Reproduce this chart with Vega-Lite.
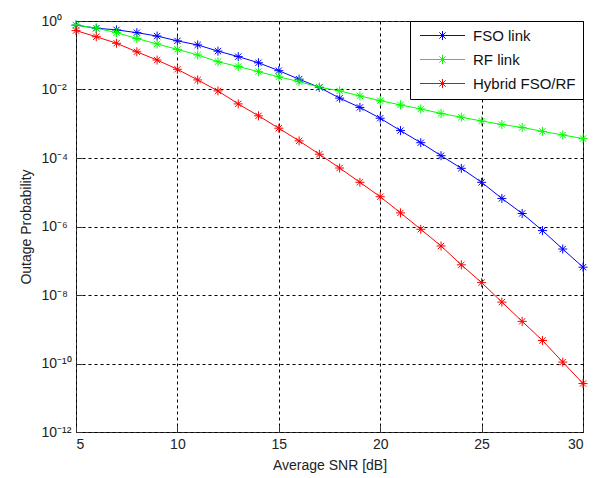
{
  "$schema": "https://vega.github.io/schema/vega-lite/v6.json",
  "width": 507,
  "height": 411,
  "autosize": {"type": "none"},
  "padding": {"left": 76, "top": 21, "right": 14, "bottom": 46},
  "background": "white",
  "config": {
    "font": "Liberation Sans",
    "view": {"stroke": "#333333", "strokeWidth": 1},
    "axis": {
      "grid": true,
      "gridColor": "#000000",
      "gridDash": [3, 3],
      "gridOpacity": 1,
      "gridWidth": 1,
      "domain": false,
      "ticks": true,
      "tickSize": -6,
      "tickColor": "#333333",
      "labelFont": "Liberation Sans",
      "labelFontSize": 14,
      "labelColor": "#222222",
      "titleFont": "Liberation Sans",
      "titleFontSize": 14,
      "titleFontWeight": "normal",
      "titleColor": "#222222"
    }
  },
  "data": {
    "values": [
      {"s": "FSO link", "x": 5, "p": 0.759},
      {"s": "FSO link", "x": 6, "p": 0.617},
      {"s": "FSO link", "x": 7, "p": 0.55},
      {"s": "FSO link", "x": 8, "p": 0.457},
      {"s": "FSO link", "x": 9, "p": 0.363},
      {"s": "FSO link", "x": 10, "p": 0.263},
      {"s": "FSO link", "x": 11, "p": 0.2},
      {"s": "FSO link", "x": 12, "p": 0.132},
      {"s": "FSO link", "x": 13, "p": 0.0912},
      {"s": "FSO link", "x": 14, "p": 0.0603},
      {"s": "FSO link", "x": 15, "p": 0.0355},
      {"s": "FSO link", "x": 16, "p": 0.02},
      {"s": "FSO link", "x": 17, "p": 0.0115},
      {"s": "FSO link", "x": 18, "p": 0.0056},
      {"s": "FSO link", "x": 19, "p": 0.003},
      {"s": "FSO link", "x": 20, "p": 0.00145},
      {"s": "FSO link", "x": 21, "p": 0.00063},
      {"s": "FSO link", "x": 22, "p": 0.00028},
      {"s": "FSO link", "x": 23, "p": 0.000117},
      {"s": "FSO link", "x": 24, "p": 5.0e-5},
      {"s": "FSO link", "x": 25, "p": 1.95e-5},
      {"s": "FSO link", "x": 26, "p": 6.6e-6},
      {"s": "FSO link", "x": 27, "p": 2.4e-6},
      {"s": "FSO link", "x": 28, "p": 7.6e-7},
      {"s": "FSO link", "x": 29, "p": 2.2e-7},
      {"s": "FSO link", "x": 30, "p": 6.5e-8},
      {"s": "RF link", "x": 5, "p": 0.759},
      {"s": "RF link", "x": 6, "p": 0.617},
      {"s": "RF link", "x": 7, "p": 0.457},
      {"s": "RF link", "x": 8, "p": 0.309},
      {"s": "RF link", "x": 9, "p": 0.214},
      {"s": "RF link", "x": 10, "p": 0.148},
      {"s": "RF link", "x": 11, "p": 0.102},
      {"s": "RF link", "x": 12, "p": 0.0646},
      {"s": "RF link", "x": 13, "p": 0.0468},
      {"s": "RF link", "x": 14, "p": 0.0331},
      {"s": "RF link", "x": 15, "p": 0.0234},
      {"s": "RF link", "x": 16, "p": 0.017},
      {"s": "RF link", "x": 17, "p": 0.0117},
      {"s": "RF link", "x": 18, "p": 0.0091},
      {"s": "RF link", "x": 19, "p": 0.0065},
      {"s": "RF link", "x": 20, "p": 0.0047},
      {"s": "RF link", "x": 21, "p": 0.00355},
      {"s": "RF link", "x": 22, "p": 0.0027},
      {"s": "RF link", "x": 23, "p": 0.002},
      {"s": "RF link", "x": 24, "p": 0.00155},
      {"s": "RF link", "x": 25, "p": 0.0012},
      {"s": "RF link", "x": 26, "p": 0.00095},
      {"s": "RF link", "x": 27, "p": 0.00078},
      {"s": "RF link", "x": 28, "p": 0.0006},
      {"s": "RF link", "x": 29, "p": 0.00047},
      {"s": "RF link", "x": 30, "p": 0.00037},
      {"s": "Hybrid FSO/RF", "x": 5, "p": 0.525},
      {"s": "Hybrid FSO/RF", "x": 6, "p": 0.347},
      {"s": "Hybrid FSO/RF", "x": 7, "p": 0.224},
      {"s": "Hybrid FSO/RF", "x": 8, "p": 0.126},
      {"s": "Hybrid FSO/RF", "x": 9, "p": 0.0724},
      {"s": "Hybrid FSO/RF", "x": 10, "p": 0.0389},
      {"s": "Hybrid FSO/RF", "x": 11, "p": 0.019},
      {"s": "Hybrid FSO/RF", "x": 12, "p": 0.0091},
      {"s": "Hybrid FSO/RF", "x": 13, "p": 0.0038},
      {"s": "Hybrid FSO/RF", "x": 14, "p": 0.0017},
      {"s": "Hybrid FSO/RF", "x": 15, "p": 0.00074},
      {"s": "Hybrid FSO/RF", "x": 16, "p": 0.000316},
      {"s": "Hybrid FSO/RF", "x": 17, "p": 0.000129},
      {"s": "Hybrid FSO/RF", "x": 18, "p": 5.1e-5},
      {"s": "Hybrid FSO/RF", "x": 19, "p": 1.95e-5},
      {"s": "Hybrid FSO/RF", "x": 20, "p": 7.4e-6},
      {"s": "Hybrid FSO/RF", "x": 21, "p": 2.5e-6},
      {"s": "Hybrid FSO/RF", "x": 22, "p": 8.3e-7},
      {"s": "Hybrid FSO/RF", "x": 23, "p": 2.7e-7},
      {"s": "Hybrid FSO/RF", "x": 24, "p": 7.6e-8},
      {"s": "Hybrid FSO/RF", "x": 25, "p": 2.3e-8},
      {"s": "Hybrid FSO/RF", "x": 26, "p": 6.2e-9},
      {"s": "Hybrid FSO/RF", "x": 27, "p": 1.7e-9},
      {"s": "Hybrid FSO/RF", "x": 28, "p": 4.7e-10},
      {"s": "Hybrid FSO/RF", "x": 29, "p": 1.1e-10},
      {"s": "Hybrid FSO/RF", "x": 30, "p": 2.6e-11}
    ]
  },
  "encoding": {
    "x": {
      "field": "x",
      "type": "quantitative",
      "scale": {"domain": [5, 30], "nice": false, "zero": false},
      "axis": {"values": [5, 10, 15, 20, 25, 30], "title": "Average SNR [dB]", "labelPadding": 11, "titlePadding": 7}
    },
    "y": {
      "field": "p",
      "type": "quantitative",
      "scale": {"type": "log", "domain": [1e-12, 1], "nice": false},
      "axis": {
        "values": [1, 0.01, 0.0001, 1e-6, 1e-8, 1e-10, 1e-12],
        "labelExpr": "'10' + ['⁰','⁻²','⁻⁴','⁻⁶','⁻⁸','⁻¹⁰','⁻¹²'][round(-log(datum.value)/LN10/2)]",
        "labelAlign": "left",
        "labelPadding": 41,
        "title": "Outage Probability",
        "titlePadding": 8
      }
    },
    "color": {
      "field": "s",
      "type": "nominal",
      "scale": {"domain": ["FSO link", "RF link", "Hybrid FSO/RF"], "range": ["#0000ff", "#00ff00", "#ff0000"]},
      "legend": {
        "title": null,
        "orient": "top-right",
        "offset": 0,
        "padding": 7,
        "strokeColor": "#000000",
        "fillColor": "#ffffff",
        "symbolType": "M-1,0L9,0M4,-1L4,1M3,0L5,0M3.3,-0.7L4.7,0.7M3.3,0.7L4.7,-0.7",
        "symbolSize": 81,
        "symbolStrokeWidth": 1,
        "symbolOpacity": 1,
        "symbolFillColor": "transparent",
        "labelOffset": 41,
        "labelFont": "Liberation Sans",
        "labelFontSize": 15,
        "labelColor": "#111111",
        "rowPadding": 8
      }
    }
  },
  "layer": [
    {
      "mark": {"type": "line", "strokeWidth": 1}
    },
    {
      "mark": {
        "type": "point",
        "shape": "M-1,0L1,0M0,-1L0,1M-0.7,-0.7L0.7,0.7M-0.7,0.7L0.7,-0.7",
        "filled": false,
        "size": 81,
        "strokeWidth": 1,
        "opacity": 1
      }
    }
  ]
}
